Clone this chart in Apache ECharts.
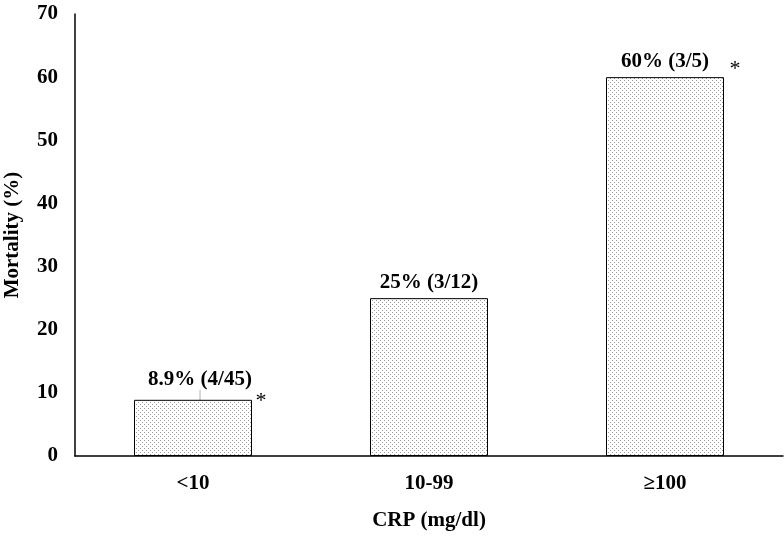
<!DOCTYPE html>
<html>
<head>
<meta charset="utf-8">
<script src="https://cdn.jsdelivr.net/npm/echarts@6/dist/echarts.min.js"></script>
<style>html,body{margin:0;padding:0;background:#fff}#c{width:784px;height:536px}</style>
</head>
<body>
<div id="c"></div>
<script>
const categories = ['<10', '10-99', '\u2265100'];
const mortality = [8.9, 25, 60];
const barLabels = ['8.9% (4/45)', '25% (3/12)', '60% (3/5)'];
const yTicks = [0, 10, 20, 30, 40, 50, 60, 70];
const starred = [0, 2];

const pc = document.createElement('canvas');
pc.width = 4; pc.height = 4;
const px = pc.getContext('2d');
px.fillStyle = '#fff'; px.fillRect(0, 0, 4, 4);
px.fillStyle = '#9a9a9a';
px.fillRect(0, 0, 1, 1);
px.fillRect(2, 2, 1, 1);

const font = '"Liberation Serif", "Times New Roman", serif';
const starOffsets = {0: [68, 1], 2: [70, -8]};
const chart = echarts.init(document.getElementById('c'), null, {renderer: 'canvas'});
chart.setOption({
  animation: false,
  backgroundColor: '#fff',
  grid: {left: 75, right: 1, top: 14, bottom: 80, containLabel: false, outerBoundsMode: 'none'},
  xAxis: {
    type: 'category', data: categories,
    name: 'CRP (mg/dl)', nameLocation: 'middle', nameGap: 54,
    nameTextStyle: {fontFamily: font, fontWeight: 'bold', fontSize: 21, color: '#000'},
    axisLine: {lineStyle: {color: '#000', width: 1.5}},
    axisTick: {show: false},
    axisLabel: {fontFamily: font, fontWeight: 'bold', fontSize: 21, color: '#000', margin: 17}
  },
  yAxis: {
    type: 'value', min: yTicks[0], max: yTicks[yTicks.length - 1], interval: 10,
    name: 'Mortality (%)', nameLocation: 'middle', nameGap: 52, nameRotate: 90,
    nameTextStyle: {fontFamily: font, fontWeight: 'bold', fontSize: 21, color: '#000'},
    axisLine: {show: true, lineStyle: {color: '#000', width: 1.5}},
    axisTick: {show: false},
    splitLine: {show: false},
    axisLabel: {fontFamily: font, fontWeight: 'bold', fontSize: 21, color: '#000', margin: 17}
  },
  series: [{
    type: 'bar',
    barWidth: '50%',
    data: mortality.map((v, i) => ({
      value: v,
      labelLine: i === 0 ? {show: true, lineStyle: {color: '#b0b0b0', width: 1}} : {show: false}
    })),
    itemStyle: {color: {image: pc, repeat: 'repeat'}, borderColor: '#000', borderWidth: 1},
    label: {
      show: true, position: 'top', distance: 5,
      formatter: p => barLabels[p.dataIndex],
      fontFamily: font, fontWeight: 'bold', fontSize: 21, color: '#000'
    },
    labelLayout: p => p.dataIndex === 0 ? {dx: 7, dy: -5} : {},
    markPoint: {
      symbol: 'circle', symbolSize: 1,
      itemStyle: {color: 'rgba(0,0,0,0)'},
      data: starred.map(i => ({
        coord: [categories[i], mortality[i]], value: '*',
        label: {offset: starOffsets[i]}
      })),
      label: {
        show: true, position: 'inside', formatter: '*',
        fontFamily: font, fontSize: 22, color: '#000'
      }
    }
  }]
});
</script>
</body>
</html>
